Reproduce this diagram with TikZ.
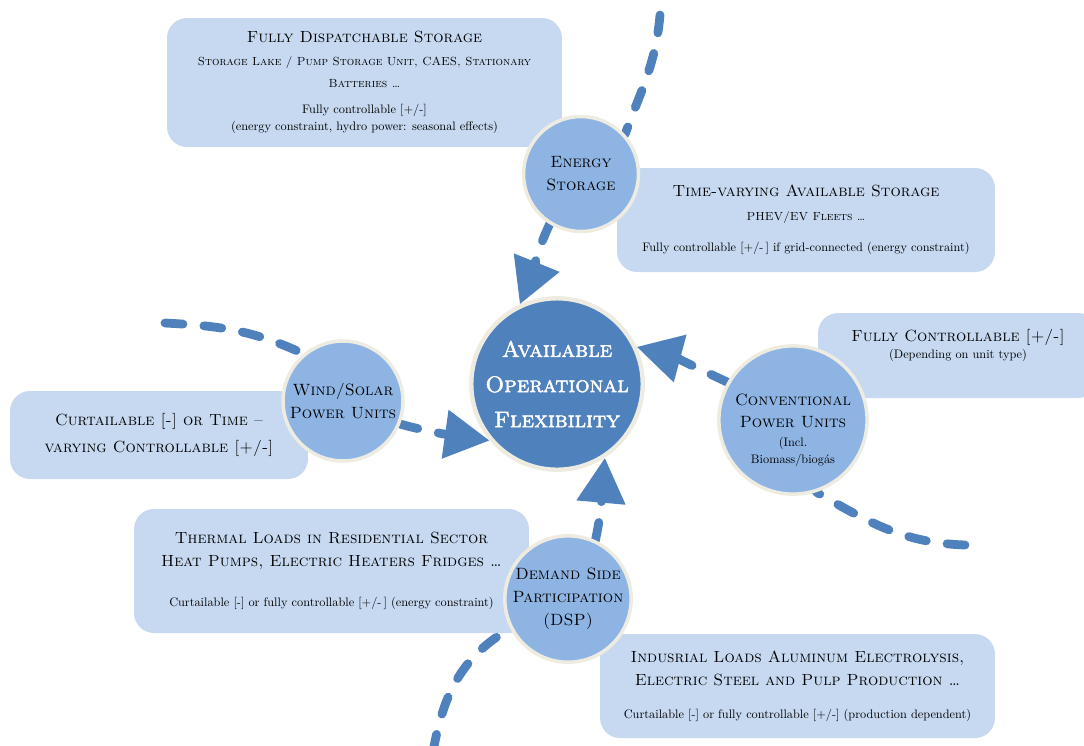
\documentclass[tikz,border=0pt]{standalone}
\usepackage{fontspec}
\usetikzlibrary{arrows.meta}

\definecolor{flexblue}{RGB}{79,129,189}
\definecolor{unitblue}{RGB}{142,180,227}
\definecolor{boxblue}{RGB}{198,217,240}
\definecolor{rimcream}{RGB}{238,236,225}

\newfontfamily\boldcaps[FakeBold=2]{lmromancaps10-regular.otf}
\newfontfamily\notefamily{lmroman10-regular.otf}
\newcommand\headfont{\scshape\fontsize{9.2}{13}\selectfont}
\newcommand\subfont{\scshape\fontsize{6.7}{13}\selectfont}
\newcommand\notefont{\notefamily\upshape\fontsize{7}{13}\selectfont}

\pgfdeclarelayer{boxes}
\pgfdeclarelayer{lines}
\pgfsetlayers{boxes,lines,main}

\begin{document}
\begin{tikzpicture}[x=0.02cm, y=0.02cm]
\useasboundingbox (0,0) rectangle (1084,-745);
% Styles
\tikzstyle{infobox} = [rectangle, rounded corners=0.4cm, fill=boxblue, align=center, inner sep=0pt, font=\headfont]
\tikzstyle{unit} = [circle, fill=unitblue, draw=rimcream, line width=2pt, align=center, inner sep=0pt, font=\scshape\fontsize{9.3}{13}\selectfont]
\tikzstyle{hub} = [circle, fill=flexblue, draw=rimcream, line width=2.5pt, align=center, inner sep=0pt, text=white, minimum size=3.43cm, font=\boldcaps\fontsize{12.8}{20}\selectfont]
\tikzstyle{flow} = [draw=flexblue, line width=5pt, line cap=round, dash pattern=on 0.36cm off 0.42cm]
\tikzstyle{arrow} = [flow, -{Triangle[length=0.9cm, width=0.94cm, fill=flexblue]}]
% Boxes
\begin{pgfonlayer}{boxes}
\node (dispatch) [infobox, minimum width=7.9cm, minimum height=2.58cm] at (364.5,-82.5) {Fully Dispatchable Storage\\ \subfont Storage Lake / Pump Storage Unit, CAES, Stationary\\[-0.5pt] \subfont Batteries \dots\\[1.7pt] \notefont Fully controllable [+/-]\\[-3.4pt] \notefont (energy constraint, hydro power: seasonal effects)};
\node (timevar) [infobox, minimum width=7.56cm, minimum height=2.08cm] at (806,-220) {Time-varying Available Storage\\[0.6pt] \subfont PHEV/EV Fleets \dots\\[4.6pt] \notefont Fully controllable [+/-\,] if grid-connected (energy constraint)};
\node (control) [infobox, minimum width=5.6cm, minimum height=1.7cm] at (958,-355.5) {Fully Controllable [+/-]\\[-3pt] \notefont (Depending on unit type)\\ \mbox{}};
\node (curtail) [infobox, minimum width=5.96cm, minimum height=1.76cm] at (159,-435) {Curtailable [-] or Time --\\[2pt] varying Controllable [+/-]};
\node (thermal) [infobox, minimum width=7.9cm, minimum height=2.48cm] at (331.5,-571) {Thermal Loads in Residential Sector\\ Heat Pumps, Electric Heaters Fridges \dots\\[9.5pt] \notefont Curtailable [-] or fully controllable [+/-\,] (energy constraint)};
\node (industry) [infobox, minimum width=7.9cm, minimum height=2.08cm] at (797.5,-686) {Indusrial Loads Aluminum Electrolysis,\\ Electric Steel and Pulp Production \dots\\[5.7pt] \notefont Curtailable [-] or fully controllable [+/-] (production dependent)};
\end{pgfonlayer}
% Circles
\node (hub) [hub] at (557,-384) {Available\\ Operational\\ Flexibility};
\node (es) [unit, minimum size=2.3cm] at (581,-174) {Energy\\ Storage};
\node (ws) [unit, minimum size=2.4cm] at (343,-401) {Wind/Solar\\ Power Units};
\node (cp) [unit, minimum size=2.8cm] at (793,-420) {\mbox{}\\[5pt] Conventional\\[-0.5pt] Power Units\\[-2pt] \notefont (Incl.\\[-3.5pt] \notefont Biomass/biogás};
\node (dsp) [unit, minimum size=2.5cm] at (568,-599) {Demand Side\\ Participation\\ (DSP)};
% Tails
\coordinate (storetail) at (660,-15);
\coordinate (windtail) at (165,-323);
\coordinate (convtail) at (965,-545);
\coordinate (dsptail) at (433,-752);
% Arrows
\begin{pgfonlayer}{lines}
\draw [flow] (storetail) to[out=-95, in=70] (es.42);
\draw [arrow] (es.-122) to[out=-115, in=68] (hub.115);
\draw [flow] (windtail) to[out=-3, in=155] (ws.130);
\draw [arrow] (ws.-22) to[out=-15, in=172] (hub.-140);
\draw [flow] (convtail) to[out=178, in=-30] (cp.-72);
\draw [arrow] (cp.150) to[out=155, in=-15] (hub.25);
\draw [flow] (dsptail) to[out=80, in=-150] (dsp.-153);
\draw [arrow] (dsp.65) to[out=78, in=-95] (hub.-57);
\end{pgfonlayer}
\end{tikzpicture}
\end{document}
